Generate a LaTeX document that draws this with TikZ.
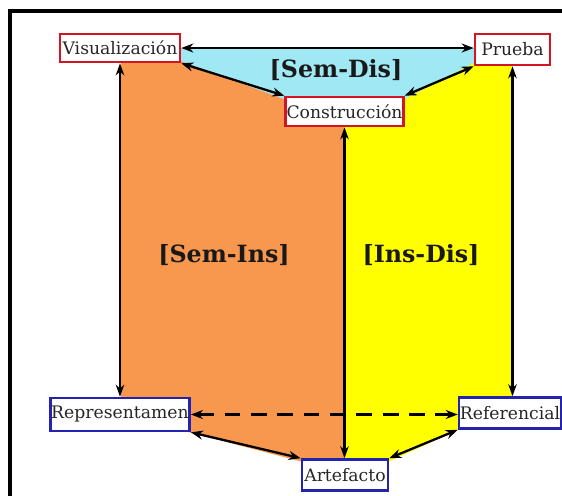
\documentclass[tikz,border=0pt]{standalone}
\usepackage{fontspec}
\setmainfont{DejaVu Serif}
\usetikzlibrary{arrows.meta}
\definecolor{semdis}{RGB}{160,232,243}
\definecolor{semins}{RGB}{248,152,78}
\definecolor{insdis}{RGB}{255,255,0}
\definecolor{boxred}{RGB}{210,20,35}
\definecolor{boxblue}{RGB}{35,35,175}
\tikzset{
  concept/.style={draw, line width=1.5pt, fill=white, inner sep=0.5pt,
    font=\fontsize{9.8}{11}\selectfont, text=black!85},
  redbox/.style={concept, draw=boxred},
  bluebox/.style={concept, draw=boxblue},
  link/.style={line width=1.3pt, {Stealth[length=2.4mm,width=1.8mm]}-{Stealth[length=2.4mm,width=1.8mm]}},
  axis/.style={line width=1.2pt, {Stealth[length=2.4mm,width=1.7mm]}-{Stealth[length=2.4mm,width=1.7mm]}},
  dimlabel/.style={font=\fontsize{13.5}{15}\selectfont\bfseries, text=black!90}
}
\begin{document}
\begin{tikzpicture}[x=0.02cm, y=-0.02cm]
\useasboundingbox (0,0) rectangle (562,495);
\fill[white] (0,0) rectangle (562,495);
% outer frame (open on the right and at the bottom)
\draw[line width=2.2pt] (10,500) -- (10,11) -- (575,11);

% coloured regions
\fill[semdis] (178,48) -- (476,48) -- (476,64) -- (403,100) -- (286,100) -- (178,62) -- cycle;
\fill[insdis] (341,100) -- (403,100) -- (476,62) -- (512,62) -- (512,400) -- (462,428) -- (388,462) -- (341,462) -- cycle;
\fill[semins] (121,60) -- (178,60) -- (286,100) -- (344,100) -- (344,462) -- (303,462) -- (188,432) -- (121,420) -- cycle;

% concept boxes
\node[redbox, minimum width=2.4cm, minimum height=0.56cm] (vis) at (120,48) {Visualización};
\node[redbox, minimum width=1.5cm, minimum height=0.62cm] (pru) at (512.5,49.5) {Prueba};
\node[redbox, minimum width=2.34cm, minimum height=0.58cm] (con) at (344.5,111.5) {Construcción};
\node[bluebox, minimum width=2.72cm, minimum height=0.66cm] (rep) at (120,414.5) {Representamen};
\node[bluebox, minimum width=2.0cm, minimum height=0.62cm] (ref) at (510,413) {Referencial};
\node[bluebox, minimum width=1.72cm, minimum height=0.62cm] (art) at (345,475) {Artefacto};

% dimension labels
\node[dimlabel] (sd) at (336,70) {[Sem-Dis]};
\node[dimlabel] (si) at (224,255) {[Sem-Ins]};
\node[dimlabel] (id) at (421,255) {[Ins-Dis]};

% connectors
\draw[link] (vis.east) -- (vis.east -| pru.west);
\draw[link] (vis.south east) -- (con.north west);
\draw[link] (pru.south west) -- (con.north east);
\draw[axis] (vis.south) -- (rep.north);
\draw[axis] (con.south) -- (con.south |- art.north);
\draw[axis] (pru.south) -- (pru.south |- ref.north);
\draw[link, dash pattern=on 9pt off 6pt] (rep.east) -- (rep.east -| ref.west);
\draw[link] (rep.south east) -- (art.north west);
\draw[link] (ref.south west) -- (art.north east);
\end{tikzpicture}
\end{document}
